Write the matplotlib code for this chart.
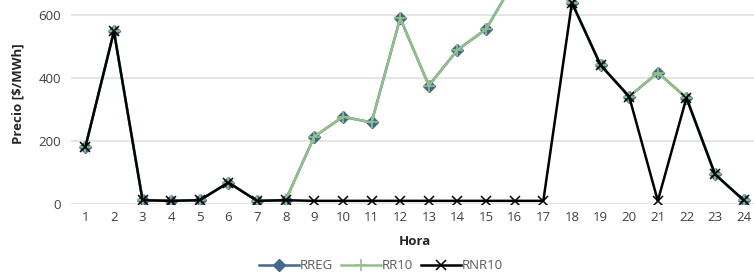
import matplotlib.pyplot as plt

plt.rcParams['font.family'] = ['Open Sans', 'DejaVu Sans']

# Horas y precios [$/MWh]
horas = list(range(1, 25))
rreg = [180, 548, 12, 10, 12, 68, 10, 12, 214, 277, 259, 590,
        376, 489, 555, 710, 700, 639, 441, 341, 417, 337, 94, 12]
rr10 = [180, 548, 12, 10, 12, 68, 10, 12, 214, 277, 259, 590,
        376, 489, 555, 710, 700, 639, 441, 341, 417, 337, 94, 12]
rnr10 = [180, 548, 12, 10, 12, 68, 10, 12, 10, 10, 10, 10,
         10, 10, 10, 10, 10, 639, 441, 341, 10, 337, 94, 12]
yticks = [0, 200, 400, 600]

fig = plt.figure(figsize=(7.54, 2.80), dpi=100)
# el grafico original esta recortado arriba y a la derecha
ax = fig.add_axes([71 / 754, 76 / 280, 687 / 754, 220.5 / 280])

ax.plot(horas, rreg, color='#44688a', lw=1.8, marker='D', ms=6,
        label='RREG', zorder=3)
ax.plot(horas, rr10, color='#93c08a', lw=1.8, marker='+', ms=8, mew=1.2,
        label='RR10', zorder=4)
ax.plot(horas, rnr10, color='black', lw=1.8, marker='x', ms=7, mew=1.1,
        label='RNR10', zorder=5)

ax.set_xlim(0.5, 24.5)
ax.set_ylim(0, 700)
ax.set_xticks(horas)
ax.set_yticks(yticks)
ax.grid(axis='y', color='#e0e0e0', lw=1.2)
ax.set_axisbelow(True)
for s in ax.spines.values():
    s.set_visible(False)
ax.tick_params(length=0, labelsize=9.5, colors='#404040', pad=7)
ax.tick_params(axis='x', pad=5)

ax.set_xlabel('Hora', fontsize=9.5, fontweight='bold', color='#262626', labelpad=8)
ax.set_ylabel('Precio [$/MWh]', fontsize=9.5, fontweight='bold', color='#262626', labelpad=10)

fig.legend(loc='lower center', bbox_to_anchor=(381 / 754, -0.015), ncol=3,
           frameon=False, fontsize=9.5, handlelength=3.0, handletextpad=0.1,
           columnspacing=0.6, labelcolor='#595959')

fig.savefig('out.png', dpi=100)
